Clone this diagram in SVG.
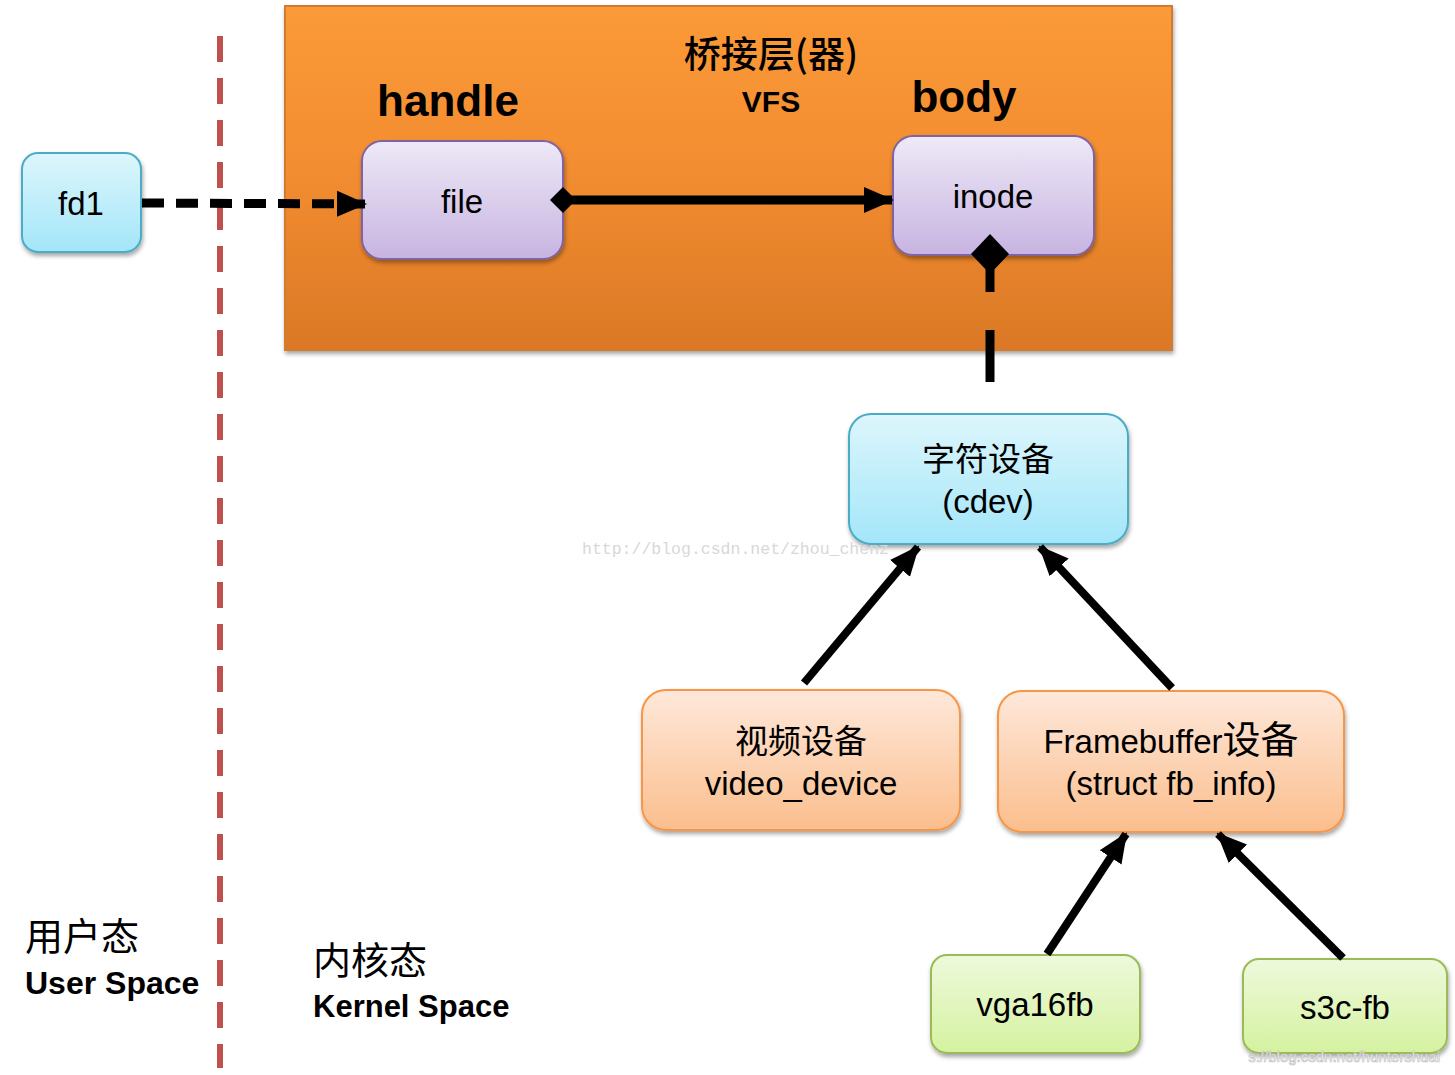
<svg xmlns="http://www.w3.org/2000/svg" width="1455" height="1075" viewBox="0 0 1455 1075">
<style>
text{font-family:"Liberation Sans","Noto Sans CJK SC",sans-serif;fill:#000}
.lbl{font-size:33px;text-anchor:middle}
.cn{font-family:"Noto Sans CJK SC",sans-serif}
.bold{font-weight:bold}
.conn{stroke:#000;fill:none}
</style>
<defs>
<linearGradient id="gOrange" x1="0" y1="0" x2="0" y2="1"><stop offset="0" stop-color="#FB9A38"/><stop offset="0.5" stop-color="#F28C30"/><stop offset="1" stop-color="#DA7826"/></linearGradient>
<linearGradient id="gBlue" x1="0" y1="0" x2="0" y2="1"><stop offset="0" stop-color="#DDF6FC"/><stop offset="1" stop-color="#A3E6F9"/></linearGradient>
<linearGradient id="gPurple" x1="0" y1="0" x2="0" y2="1"><stop offset="0" stop-color="#EEE9F7"/><stop offset="1" stop-color="#C7B4E1"/></linearGradient>
<linearGradient id="gPeach" x1="0" y1="0" x2="0" y2="1"><stop offset="0" stop-color="#FEE8DA"/><stop offset="1" stop-color="#FBBE8D"/></linearGradient>
<linearGradient id="gGreen" x1="0" y1="0" x2="0" y2="1"><stop offset="0" stop-color="#EEF9DC"/><stop offset="1" stop-color="#D5F2A0"/></linearGradient>
<filter id="sh" x="-10%" y="-10%" width="125%" height="130%"><feDropShadow dx="1" dy="3" stdDeviation="2" flood-color="#000" flood-opacity="0.35"/></filter>
<marker id="arr" markerUnits="userSpaceOnUse" markerWidth="30" markerHeight="30" viewBox="0 0 30 30" refX="28" refY="15" orient="auto"><path d="M0,2 L30,15 L0,28 Z" fill="#000"/></marker>
<marker id="dia" markerUnits="userSpaceOnUse" markerWidth="26" markerHeight="26" viewBox="0 0 26 26" refX="13" refY="13" orient="auto"><path d="M0,13 L13,0 L26,13 L13,26 Z" fill="#000"/></marker>
</defs>
<rect width="1455" height="1075" fill="#fff"/>

<g id="vfs-layer">
<rect x="285" y="6" width="887" height="344" fill="url(#gOrange)" stroke="#D27A2E" stroke-width="2" filter="url(#sh)"/>
<text x="771" y="68" class="cn" font-size="37" text-anchor="middle" font-weight="500">桥接层(器)</text>
<text x="771" y="112" class="bold" font-size="30" text-anchor="middle">VFS</text>
<text x="448" y="116" class="bold" font-size="44" text-anchor="middle">handle</text>
<text x="964" y="112" class="bold" font-size="44" text-anchor="middle">body</text>
</g>

<g id="divider">
<line x1="220" y1="36" x2="220" y2="1068" stroke="#C0504D" stroke-width="6" stroke-dasharray="26 16"/>
</g>

<g id="fd1">
<rect x="22" y="153" width="119" height="99" rx="16" fill="url(#gBlue)" stroke="#4BACC6" stroke-width="2" filter="url(#sh)"/>
<text x="81" y="215" class="lbl">fd1</text>
</g>
<g id="file">
<rect x="362" y="141" width="201" height="118" rx="20" fill="url(#gPurple)" stroke="#8064A2" stroke-width="2" filter="url(#sh)"/>
<text x="462" y="213" class="lbl">file</text>
</g>
<g id="inode">
<rect x="893" y="136" width="201" height="119" rx="20" fill="url(#gPurple)" stroke="#8064A2" stroke-width="2" filter="url(#sh)"/>
<text x="993" y="208" class="lbl">inode</text>
</g>
<g id="cdev">
<rect x="849" y="414" width="279" height="130" rx="22" fill="url(#gBlue)" stroke="#4BACC6" stroke-width="2" filter="url(#sh)"/>
<text x="988" y="471" class="lbl cn" font-size="38">字符设备</text>
<text x="988" y="513" class="lbl" font-size="34">(cdev)</text>
</g>
<g id="video_device">
<rect x="642" y="690" width="318" height="140" rx="24" fill="url(#gPeach)" stroke="#F79646" stroke-width="2" filter="url(#sh)"/>
<text x="801" y="753" class="lbl cn" font-size="38">视频设备</text>
<text x="801" y="795" class="lbl" font-size="34">video_device</text>
</g>
<g id="framebuffer">
<rect x="998" y="691" width="346" height="141" rx="24" fill="url(#gPeach)" stroke="#F79646" stroke-width="2" filter="url(#sh)"/>
<text x="1171" y="753" class="lbl" font-size="34">Framebuffer<tspan class="cn" font-size="38">设备</tspan></text>
<text x="1171" y="795" class="lbl" font-size="35">(struct fb_info)</text>
</g>
<g id="vga16fb">
<rect x="931" y="955" width="209" height="98" rx="16" fill="url(#gGreen)" stroke="#9BBB59" stroke-width="2" filter="url(#sh)"/>
<text x="1035" y="1016" class="lbl">vga16fb</text>
</g>
<g id="s3c-fb">
<rect x="1243" y="959" width="204" height="94" rx="16" fill="url(#gGreen)" stroke="#9BBB59" stroke-width="2" filter="url(#sh)"/>
<text x="1345" y="1019" class="lbl">s3c-fb</text>
</g>

<g id="connectors">
<line class="conn" x1="142" y1="203" x2="365" y2="204" stroke-width="9" stroke-dasharray="22 12" marker-end="url(#arr)"/>
<line class="conn" x1="563" y1="200" x2="892" y2="200" stroke-width="9" marker-start="url(#dia)" marker-end="url(#arr)"/>
<line class="conn" x1="990" y1="255" x2="990" y2="292" stroke-width="9"/>
<polygon points="990,234 1009,254 990,274 971,254" fill="#000"/>
<line class="conn" x1="990" y1="330" x2="990" y2="382" stroke-width="9"/>
<line class="conn" x1="804" y1="683" x2="918" y2="547" stroke-width="8" marker-end="url(#arr)"/>
<line class="conn" x1="1172" y1="688" x2="1040" y2="547" stroke-width="8" marker-end="url(#arr)"/>
<line class="conn" x1="1047" y1="954" x2="1126" y2="834" stroke-width="8" marker-end="url(#arr)"/>
<line class="conn" x1="1343" y1="958" x2="1218" y2="834" stroke-width="8" marker-end="url(#arr)"/>
</g>

<g id="space-labels">
<text x="25" y="950" class="cn" font-size="38">用户态</text>
<text x="25" y="994" class="bold" font-size="32">User Space</text>
<text x="313" y="974" class="cn" font-size="38">内核态</text>
<text x="313" y="1017" class="bold" font-size="31">Kernel Space</text>
</g>

<g id="watermarks">
<text x="582" y="554" style="fill:#d8d8d8;font-family:'Liberation Mono',monospace;font-size:16.5px">http://blog.csdn.net/zhou_chenz</text>
<text x="1440" y="1062" font-size="15" text-anchor="end" style="fill:#fff;stroke:#bbb;stroke-width:0.6">s://blog.csdn.net/huntershuai</text>
</g>
</svg>
